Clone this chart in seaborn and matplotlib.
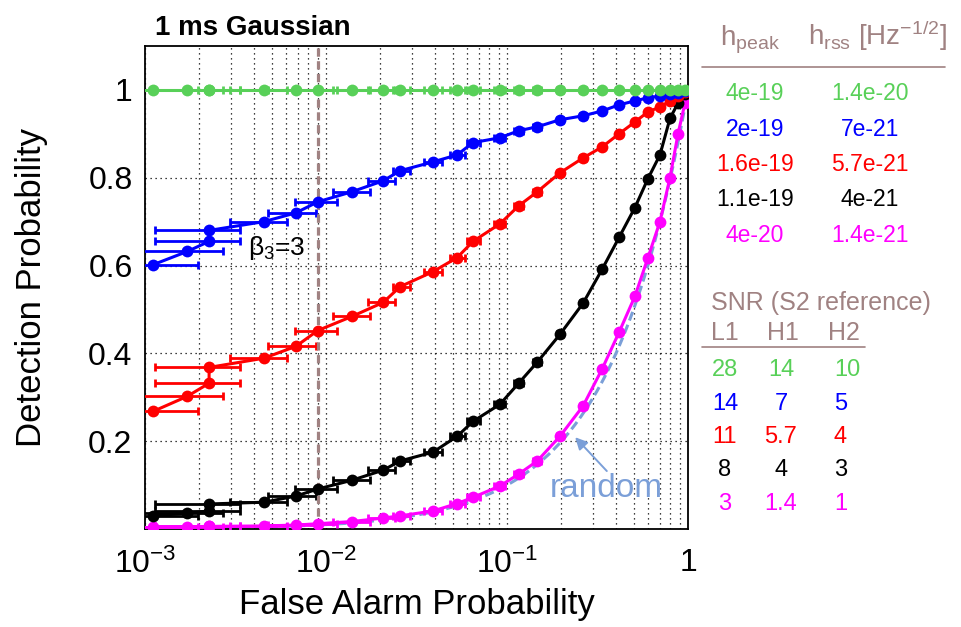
import numpy as np
import pandas as pd
import matplotlib
matplotlib.use("Agg")
import matplotlib.pyplot as plt
from matplotlib.lines import Line2D
from matplotlib.ticker import FixedLocator, FixedFormatter, MultipleLocator, NullFormatter, LogLocator
import seaborn as sns

# ---- data -------------------------------------------------------------
# false alarm probability at each threshold step (shared by all signals)
fap = [1.11e-3, 1.71e-3, 2.26e-3, 2.26e-3, 4.54e-3, 6.82e-3, 9.0e-3, 1.39e-2,
       2.07e-2, 2.57e-2, 3.9e-2, 5.3e-2, 6.49e-2, 9.14e-2, 0.116, 0.147,
       0.196, 0.263, 0.335, 0.416, 0.509, 0.601, 0.700, 0.795, 0.881, 0.962]
# asymmetric uncertainty interval on the false alarm probability
fap_lo = [9.4e-4, 9.4e-4, 1.14e-3, 1.14e-3, 2.95e-3, 4.79e-3, 6.75e-3, 1.09e-2,
          1.71e-2, 2.35e-2, 3.5e-2, 4.84e-2, 6.0e-2, 8.45e-2, 0.109, 0.140,
          0.188, 0.254, 0.325, 0.405, 0.497, 0.589, 0.688, 0.784, 0.871, 0.955]
fap_hi = [1.96e-3, 2.70e-3, 3.35e-3, 3.35e-3, 6.10e-3, 8.81e-3, 1.15e-2, 1.75e-2,
          2.40e-2, 2.91e-2, 4.35e-2, 5.86e-2, 7.06e-2, 9.8e-2, 0.123, 0.154,
          0.204, 0.272, 0.345, 0.427, 0.521, 0.613, 0.712, 0.806, 0.891, 0.969]

det_green = [1.0, 1.0, 1.0, 1.0, 1.0, 1.0, 1.0, 1.0, 1.0, 1.0, 1.0, 1.0, 1.0,
             1.0, 1.0, 1.0, 1.0, 1.0, 1.0, 1.0, 1.0, 1.0, 1.0, 1.0, 1.0, 1.0]
det_blue = [0.602, 0.632, 0.655, 0.680, 0.700, 0.720, 0.745, 0.768, 0.793,
            0.816, 0.836, 0.852, 0.880, 0.891, 0.907, 0.916, 0.932, 0.941,
            0.952, 0.966, 0.975, 0.982, 0.986, 0.990, 0.994, 0.998]
det_red = [0.268, 0.302, 0.332, 0.368, 0.389, 0.416, 0.452, 0.484, 0.516,
           0.552, 0.586, 0.618, 0.655, 0.695, 0.736, 0.768, 0.811, 0.845,
           0.870, 0.900, 0.927, 0.950, 0.961, 0.975, 0.985, 0.995]
det_black = [0.030, 0.036, 0.041, 0.057, 0.061, 0.075, 0.091, 0.111, 0.134,
             0.155, 0.175, 0.211, 0.245, 0.284, 0.332, 0.380, 0.443, 0.514,
             0.591, 0.664, 0.732, 0.798, 0.852, 0.935, 0.970, 0.990]
det_magenta = [0.004, 0.005, 0.006, 0.006, 0.007, 0.009, 0.012, 0.017, 0.025,
               0.030, 0.041, 0.058, 0.072, 0.098, 0.125, 0.155, 0.211, 0.280,
               0.364, 0.448, 0.530, 0.618, 0.700, 0.800, 0.900, 0.970]

# injected amplitudes and single-detector SNR per signal
h_peak = ["4e-19", "2e-19", "1.6e-19", "1.1e-19", "4e-20"]
h_rss = ["1.4e-20", "7e-21", "5.7e-21", "4e-21", "1.4e-21"]
snr_l1 = ["28", "14", "11", "8", "3"]
snr_h1 = ["14", "7", "5.7", "4", "1.4"]
snr_h2 = ["10", "5", "4", "3", "1"]

beta3_fap = 9.0e-3          # operating point beta_3 = 3
x_ticks = [1e-3, 1e-2, 1e-1, 1.0]
x_tick_labels = [r"$10^{-3}$", r"$10^{-2}$", r"$10^{-1}$", "1"]
y_ticks = [0.2, 0.4, 0.6, 0.8, 1.0]
y_tick_labels = ["0.2", "0.4", "0.6", "0.8", "1"]

# ---- style ------------------------------------------------------------
GREEN, BLUE, RED, BLACK, MAGENTA = "#58d058", "#0000ff", "#ff0000", "#000000", "#ff00ff"
BROWN = "#a08282"
RANDOM_C = "#7b9fd8"

sns.set_theme(style="white")
plt.rcParams["font.family"] = ["Liberation Sans", "DejaVu Sans"]
plt.rcParams["mathtext.fontset"] = "custom"
plt.rcParams["mathtext.rm"] = "Liberation Sans"
plt.rcParams["mathtext.it"] = "Liberation Sans:italic"
plt.rcParams["mathtext.bf"] = "Liberation Sans:bold"
for key in ("text.color", "axes.labelcolor", "xtick.color", "ytick.color",
            "axes.edgecolor"):
    plt.rcParams[key] = "black"

W, H = 961, 627
fig = plt.figure(figsize=(W / 100, H / 100), dpi=100)
fig.patch.set_facecolor("white")
ax = fig.add_axes([145 / W, 1 - 529 / H, (688 - 145) / W, (529 - 46) / H])
ax.set_facecolor("white")

series = [
    ("magenta", det_magenta, MAGENTA),
    ("black", det_black, BLACK),
    ("red", det_red, RED),
    ("blue", det_blue, BLUE),
    ("green", det_green, GREEN),
]
palette = {name: c for name, _, c in series}
df = pd.concat(
    [pd.DataFrame({"fap": fap, "det": det, "signal": name}) for name, det, _ in series],
    ignore_index=True,
)

ax.set_xscale("log")

# chance diagonal P_D = P_FA
chance = np.geomspace(1e-3, 1.0, 300)
ax.plot(chance, chance, ls=(0, (3, 1.5)), color=RANDOM_C, lw=2.2, zorder=2)

fap_arr = np.array(fap)
xerr = [fap_arr - np.array(fap_lo), np.array(fap_hi) - fap_arr]
for k, (name, det, c) in enumerate(series):
    ax.errorbar(fap, det, xerr=xerr, fmt="none", ecolor=c, elinewidth=2,
                capsize=3, capthick=2, zorder=3 + 2 * k)

sns.lineplot(data=df, x="fap", y="det", hue="signal",
             hue_order=[s[0] for s in series], palette=palette,
             estimator=None, sort=False, legend=False, ax=ax,
             marker="o", markersize=8.5, markeredgewidth=0, linewidth=2.2)
for k, line in enumerate(ax.get_lines()[1:]):
    line.set_zorder(4 + 2 * k)

ax.axvline(beta3_fap, color=BROWN, lw=2.3, ls=(0, (2.6, 1.4)), zorder=20)

ax.set_xlim(1e-3, 1.0)
ax.set_ylim(0.0, 1.1)

# ticks, ROOT-like inward marks
ax.xaxis.set_major_locator(FixedLocator(x_ticks))
ax.xaxis.set_major_formatter(FixedFormatter(x_tick_labels))
ax.xaxis.set_minor_locator(LogLocator(base=10, subs=np.arange(2, 10), numticks=20))
ax.xaxis.set_minor_formatter(NullFormatter())
ax.yaxis.set_major_locator(FixedLocator(y_ticks))
ax.yaxis.set_major_formatter(FixedFormatter(y_tick_labels))
ax.yaxis.set_minor_locator(MultipleLocator(0.05))
ax.tick_params(axis="both", which="both", direction="in", colors="black",
               labelsize=23, top=False, right=False)
ax.tick_params(axis="y", which="major", length=16, width=1.2, pad=9)
ax.tick_params(axis="y", which="minor", length=8, width=1.2)
ax.tick_params(axis="x", which="major", length=12, width=1.2, pad=14)
ax.tick_params(axis="x", which="minor", length=6, width=1.2)

ax.grid(True, axis="x", which="both", color="black", lw=0.9, ls=(0, (1, 3)))
ax.grid(True, axis="y", which="major", color="black", lw=0.9, ls=(0, (1, 3)))
ax.set_axisbelow(True)
for sp in ax.spines.values():
    sp.set_color("black")
    sp.set_linewidth(1.3)

ax.set_xlabel("False Alarm Probability", fontsize=25, color="black")
ax.set_ylabel("Detection Probability", fontsize=25, color="black")
ax.xaxis.set_label_coords(0.5, -0.122)
ax.yaxis.set_label_coords(-0.178, 0.5)

# annotations inside the frame
ax.text(3.7e-3, 0.625, r"β$_{3}$=3", fontsize=19, color="black", ha="left",
        va="baseline", zorder=25)
ax.text(0.173, 0.073, "random", fontsize=24, color=RANDOM_C, ha="left",
        va="baseline", zorder=25)
ax.annotate("", xy=(0.238, 0.209), xytext=(0.356, 0.132),
            arrowprops=dict(arrowstyle="-|>", color=RANDOM_C, lw=1.4,
                            mutation_scale=18, shrinkA=0, shrinkB=0),
            zorder=25)

fig.text(155 / W, 1 - 35 / H, "1 ms Gaussian", fontsize=20, fontweight="bold",
         va="baseline", ha="left", color="black")

# ---- amplitude table ---------------------------------------------------
def fx(px):
    return px / W


def fy(py):
    return 1 - py / H


fig.text(fx(720), fy(45), r"h$_{\mathrm{peak}}$", fontsize=20, color=BROWN, va="baseline")
fig.text(fx(808), fy(45), r"h$_{\mathrm{rss}}$ [Hz$^{\mathrm{-1/2}}$]", fontsize=20,
         color=BROWN, va="baseline")
fig.add_artist(Line2D([fx(702), fx(945)], [fy(67), fy(67)], color=BROWN, lw=1.2))

row_colors = [GREEN, BLUE, RED, BLACK, MAGENTA]
for i, c in enumerate(row_colors):
    yb = fy(100 + 35.5 * i)
    fig.text(fx(755), yb, h_peak[i], fontsize=16.5, color=c, ha="center", va="baseline")
    fig.text(fx(870), yb, h_rss[i], fontsize=16.5, color=c, ha="center", va="baseline")

# ---- SNR table ----------------------------------------------------------
fig.text(fx(711), fy(310), "SNR (S2 reference)", fontsize=18, color=BROWN, va="baseline")
fig.text(fx(711), fy(340), "L1", fontsize=18, color=BROWN, va="baseline")
fig.text(fx(767), fy(340), "H1", fontsize=18, color=BROWN, va="baseline")
fig.text(fx(828), fy(340), "H2", fontsize=18, color=BROWN, va="baseline")
fig.add_artist(Line2D([fx(702), fx(865)], [fy(347), fy(347)], color=BROWN, lw=1.2))

for i, c in enumerate(row_colors):
    yb = fy(376 + 33.5 * i)
    fig.text(fx(725), yb, snr_l1[i], fontsize=17, color=c, ha="center", va="baseline")
    fig.text(fx(781), yb, snr_h1[i], fontsize=17, color=c, ha="center", va="baseline")
    fig.text(fx(834), yb, snr_h2[i], fontsize=17, color=c, ha="left", va="baseline")

fig.savefig("out.png", dpi=100, facecolor="white")
